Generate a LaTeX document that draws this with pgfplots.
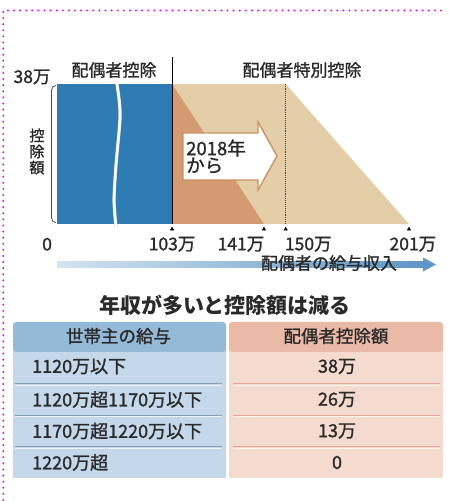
\documentclass[border=0pt]{standalone}
\usepackage{pgfplots}
\pgfplotsset{compat=1.18}
\usepackage{fontspec}
\setmainfont{Noto Sans CJK JP}
\newfontfamily\med{Noto Sans CJK JP}[FakeBold=1.3]
\usetikzlibrary{shadings}
\definecolor{barblue}{HTML}{2F7BB3}
\definecolor{tanlight}{HTML}{E3CEA7}
\definecolor{tandark}{HTML}{D49A71}
\definecolor{arrowtan}{HTML}{C98F5F}
\definecolor{txt}{HTML}{2A2A2A}
\definecolor{hdrblue}{HTML}{95BAD8}
\definecolor{rowblue}{HTML}{C4D8E9}
\definecolor{sepblue}{HTML}{869FB8}
\definecolor{hdrpink}{HTML}{EBBAA7}
\definecolor{rowpink}{HTML}{F5DAD0}
\definecolor{seppink}{HTML}{DDA596}
\definecolor{gradL}{HTML}{D3E4EF}
\definecolor{gradR}{HTML}{5E96C6}
\definecolor{dotmag}{HTML}{E01EE0}
\newcommand{\fs}[1]{\med\fontsize{#1}{#1}\selectfont}
\begin{document}
\begin{tikzpicture}
\useasboundingbox (0,0) rectangle (448pt,501pt);
\fill[white] (0,0) rectangle (448pt,501pt);
\begin{axis}[at={(57pt,277pt)}, anchor=south west, scale only axis,
  width=352pt, height=140pt, xmin=55.4, xmax=201, ymin=0, ymax=38,
  hide axis, clip=false]
% new special deduction (from 2018)
\addplot[fill=tanlight, draw=none] coordinates {(103,0) (103,38) (150,38) (201,0)} -- cycle;
% old special deduction
\addplot[fill=tandark, draw=none] coordinates {(103,0) (103,38) (141,0)} -- cycle;
% spouse deduction
\addplot[fill=barblue, draw=none] coordinates {(55.4,0) (55.4,38) (103,38) (103,0)} -- cycle;
% axis break
\addplot[color=gray!35, line width=3.2pt, smooth] coordinates {(80.2,38) (81.5,29.6) (79.8,16) (79.0,6.5) (79.8,-0.8)};
\addplot[white, line width=2.4pt, smooth] coordinates {(80.2,38) (81.5,29.6) (79.8,16) (79.0,6.5) (79.8,-0.8)};
% boundaries
\addplot[black, line width=0.9pt] coordinates {(103,0) (103,45.3)};
\addplot[black!75, line width=1.1pt, densely dotted] coordinates {(150,0) (150,38)};
% tick markers
\addplot[only marks, mark=triangle*, mark size=2pt, black] coordinates {(103,-1.4) (141,-1.4) (150,-1.4) (201,-1.4)};
\node[txt, font=\fs{17.5}] at (103,-5.5) {103万};
\node[txt, font=\fs{17.5}, anchor=east, inner xsep=0pt] at (141.2,-5.5) {141万};
\node[txt, font=\fs{17.5}, anchor=west, inner xsep=0pt] at (149.6,-5.5) {150万};
\node[txt, font=\fs{17.5}] at (202.6,-5.5) {201万};
\node[txt, font=\fs{17.5}] at (51.3,-5.5) {0};
\end{axis}
\begin{scope}[x=1pt, y=-1pt, shift={(0pt,501pt)}]
% magenta dotted frame
\draw[dotmag, line width=2.3pt, line cap=round, dash pattern=on 0pt off 6.1pt] (3.3,500) -- (3.3,10.5) -- (447,10.5);
% headers
\node[txt, font=\fs{17}] at (114,70) {配偶者控除};
\node[txt, font=\fs{17}] at (302,70) {配偶者特別控除};
\node[txt, font=\fs{17.5}] at (32,77) {38万};
% bracket
\draw[black!70, line width=0.8pt] (56,85.5) to[out=180,in=90] (51.5,90) -- (51.5,218) to[out=-90,in=180] (56,222.5);
\node[txt, font=\med\fontsize{15}{16}\selectfont, align=center, inner sep=0pt] at (37,151.5) {控\\除\\額};
% 2018 arrow
\draw[fill=white, draw=arrowtan, line width=1.3pt, line join=miter]
  (183,133) -- (258,133) -- (258,122) -- (277,156) -- (258,190) -- (258,180) -- (183,180) -- cycle;
\node[txt, font=\med\fontsize{18.5}{17}\selectfont, align=left, anchor=west, inner sep=0pt] at (186,156.5) {2018年\\から};
% income arrow
\shade[left color=gradL, right color=gradR] (57,261.5) rectangle (424,267.5);
\fill[gradR] (423,257.5) -- (436,264.5) -- (423,271.5) -- cycle;
\node[txt, font=\fs{17}] at (329,263) {配偶者の給与収入};
% title
\node[txt, font=\fontsize{21}{21}\selectfont\bfseries] at (225,305) {年収が多いと控除額は減る};
% table
\fill[rowblue] (13,348) rectangle (226,478);
\fill[hdrblue, rounded corners=3pt] (13,322) rectangle (226,352);
\fill[hdrblue] (13,340) rectangle (226,350.5);
\fill[rowpink] (229,348) rectangle (443,478);
\fill[hdrpink, rounded corners=3pt] (229,322) rectangle (443,352);
\fill[hdrpink] (229,340) rectangle (443,350.5);
\foreach \yy in {384,415.5,447} {
  \draw[sepblue, line width=1pt] (15,\yy) -- (222,\yy);
  \draw[white!70!rowblue, line width=0.8pt] (15,\yy+1.2) -- (222,\yy+1.2);
  \draw[seppink, line width=1pt] (233,\yy) -- (440,\yy);
  \draw[white!70!rowpink, line width=0.8pt] (233,\yy+1.2) -- (440,\yy+1.2);
}
\node[txt, font=\fs{17.5}] at (118.5,336) {世帯主の給与};
\node[txt, font=\fs{17.5}] at (336,336) {配偶者控除額};
\node[txt, font=\fs{18}, anchor=west, inner xsep=0pt] at (32,366.5) {1120万以下};
\node[txt, font=\fs{18}, anchor=west, inner xsep=0pt] at (32,399.5) {1120万超1170万以下};
\node[txt, font=\fs{18}, anchor=west, inner xsep=0pt] at (32,431) {1170万超1220万以下};
\node[txt, font=\fs{18}, anchor=west, inner xsep=0pt] at (32,462.5) {1220万超};
\node[txt, font=\fs{18}] at (337,366.5) {38万};
\node[txt, font=\fs{18}] at (337,399.5) {26万};
\node[txt, font=\fs{18}] at (337,431) {13万};
\node[txt, font=\fs{18}] at (337,462.5) {0};
\end{scope}
\end{tikzpicture}
\end{document}
